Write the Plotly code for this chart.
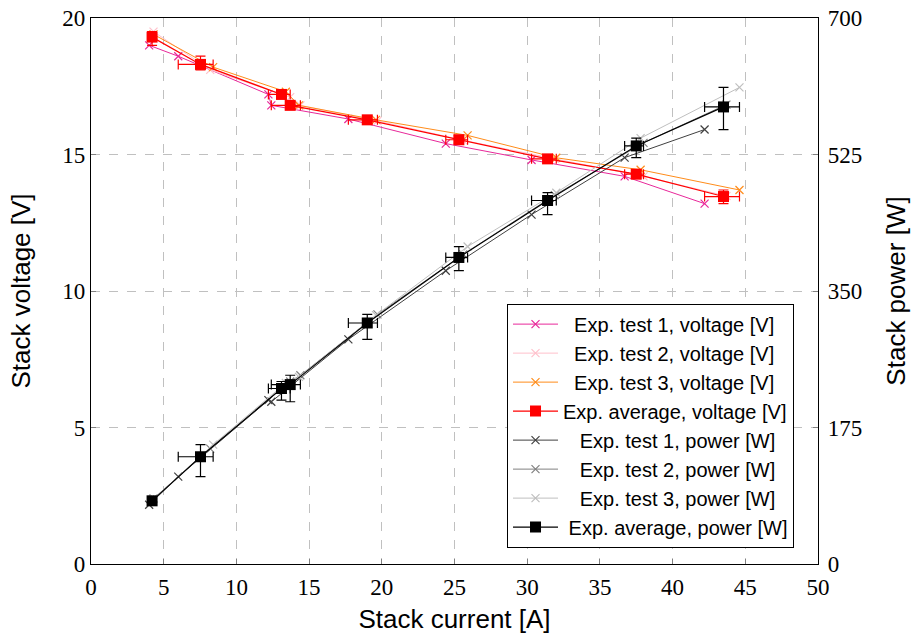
import numpy as np
import plotly.graph_objects as go

# Test data (current [A], voltage [V], power [W])
I1 = [4.0, 6.0, 12.2, 12.4, 17.7, 24.4, 30.3, 36.7, 42.2]
V1 = [19.0, 18.6, 17.2, 16.8, 16.3, 15.4, 14.8, 14.2, 13.2]
P1 = [76, 112, 210, 208, 288, 376, 448, 521, 557]

I2 = [4.3, 8.2, 13.7, 14.4, 19.7, 25.6, 31.9, 38.0, 43.7]
V2 = [19.5, 18.1, 17.1, 16.8, 16.23, 15.52, 14.84, 14.2, 13.48]
P2 = [84, 148, 234, 242, 320, 397, 473, 540, 589]

I3 = [4.3, 8.4, 13.4, 14.3, 19.6, 25.9, 32.0, 37.8, 44.6]
V3 = [19.4, 18.2, 17.3, 16.8, 16.27, 15.7, 14.88, 14.44, 13.7]
P3 = [83, 153, 232, 240, 319, 407, 476, 546, 611]

I_avg = [4.2, 7.53, 13.1, 13.7, 19.0, 25.3, 31.4, 37.5, 43.5]
V_avg = [19.3, 18.3, 17.2, 16.8, 16.27, 15.54, 14.84, 14.28, 13.46]
P_avg = [81, 137.5, 225, 230, 309, 393, 466, 536, 586]

x_ticks = [0, 5, 10, 15, 20, 25, 30, 35, 40, 45, 50]
yv_ticks = [0, 5, 10, 15, 20]
yp_ticks = [0, 175, 350, 525, 700]

Is = np.array([I1, I2, I3])
Vs = np.array([V1, V2, V3])
Ps = np.array([P1, P2, P3])
Ia, Va, Pa = np.array(I_avg), np.array(V_avg), np.array(P_avg)

ex_p = Is.max(0) - Ia
ex_m = Ia - Is.min(0)
ev_p = Vs.max(0) - Va
ev_m = Va - Vs.min(0)
ep_p = Ps.max(0) - Pa
ep_m = Pa - Ps.min(0)

fig = go.Figure()

NB = "\u00a0"

def test_trace(x, y, color, name, yaxis):
    return go.Scatter(x=x, y=y, name=name, mode="lines+markers", yaxis=yaxis,
                      line=dict(color=color, width=1),
                      marker=dict(symbol="x-thin", size=8, line=dict(color=color, width=1.2), color=color))

def avg_trace(x, y, color, name, yaxis, exp, exm, eyp, eym):
    return go.Scatter(x=x, y=y, name=name, mode="lines+markers", yaxis=yaxis,
                      line=dict(color=color, width=1.2),
                      marker=dict(symbol="square", size=11, color=color),
                      error_x=dict(type="data", symmetric=False, array=exp, arrayminus=exm,
                                   color=color, thickness=1.2, width=5),
                      error_y=dict(type="data", symmetric=False, array=eyp, arrayminus=eym,
                                   color=color, thickness=1.2, width=5))

fig.add_trace(test_trace(I1, V1, "#e8289a", NB * 2 + "Exp. test 1, voltage [V]", "y"))
fig.add_trace(test_trace(I2, V2, "#ffc0cb", NB * 2 + "Exp. test 2, voltage [V]", "y"))
fig.add_trace(test_trace(I3, V3, "#ff8c1a", NB * 2 + "Exp. test 3, voltage [V]", "y"))
fig.add_trace(avg_trace(I_avg, V_avg, "#ff0000", "Exp. average, voltage [V]", "y", ex_p, ex_m, ev_p, ev_m))
fig.add_trace(test_trace(I1, P1, "#404040", NB * 3 + "Exp. test 1, power [W]", "y2"))
fig.add_trace(test_trace(I2, P2, "#808080", NB * 3 + "Exp. test 2, power [W]", "y2"))
fig.add_trace(test_trace(I3, P3, "#bfbfbf", NB * 3 + "Exp. test 3, power [W]", "y2"))
fig.add_trace(avg_trace(I_avg, P_avg, "#000000", NB + "Exp. average, power [W]", "y2", ex_p, ex_m, ep_p, ep_m))

tickfont = dict(family="Liberation Serif", size=23, color="black")
titlefont = dict(family="Liberation Sans", size=26, color="black")

fig.update_layout(
    width=912, height=639,
    margin=dict(l=91, r=94, t=18, b=75, autoexpand=False),
    plot_bgcolor="white", paper_bgcolor="white",
    showlegend=True,
    legend=dict(x=0.967, y=0.030, xanchor="right", yanchor="bottom",
                bgcolor="white", bordercolor="black", borderwidth=1,
                font=dict(family="Liberation Sans", size=20, color="black"),
                tracegroupgap=0, itemwidth=45),
    xaxis=dict(range=[0, 50], tickvals=x_ticks, ticktext=[str(t) for t in x_ticks],
               title=dict(text="Stack current [A]", font=titlefont, standoff=11),
               tickfont=tickfont, showline=True, linecolor="black", linewidth=1.2, mirror=True,
               ticks="inside", ticklen=5, tickcolor="#808080", ticklabelstandoff=2,
               automargin=False,
               showgrid=True, gridcolor="#c0c0c0", griddash="dash", gridwidth=1, zeroline=False),
    yaxis=dict(range=[0, 20], tickvals=yv_ticks, ticktext=[str(t) for t in yv_ticks],
               title=dict(text="Stack voltage [V]", font=titlefont, standoff=24),
               tickfont=tickfont, showline=True, linecolor="black", linewidth=1.2,
               ticks="inside", ticklen=5, tickcolor="#808080", automargin=False,
               showgrid=True, gridcolor="#c0c0c0", griddash="dash", gridwidth=1, zeroline=False),
    yaxis2=dict(range=[0, 700], tickvals=yp_ticks, ticktext=[str(t) for t in yp_ticks],
                overlaying="y", side="right",
                title=dict(text="Stack power [W]", font=titlefont, standoff=25),
                tickfont=tickfont, showline=True, linecolor="black", linewidth=1.2,
                ticks="inside", ticklen=5, tickcolor="#808080", ticklabelstandoff=4,
                automargin=False,
                showgrid=False, zeroline=False),
)

fig.write_html("out.html")
